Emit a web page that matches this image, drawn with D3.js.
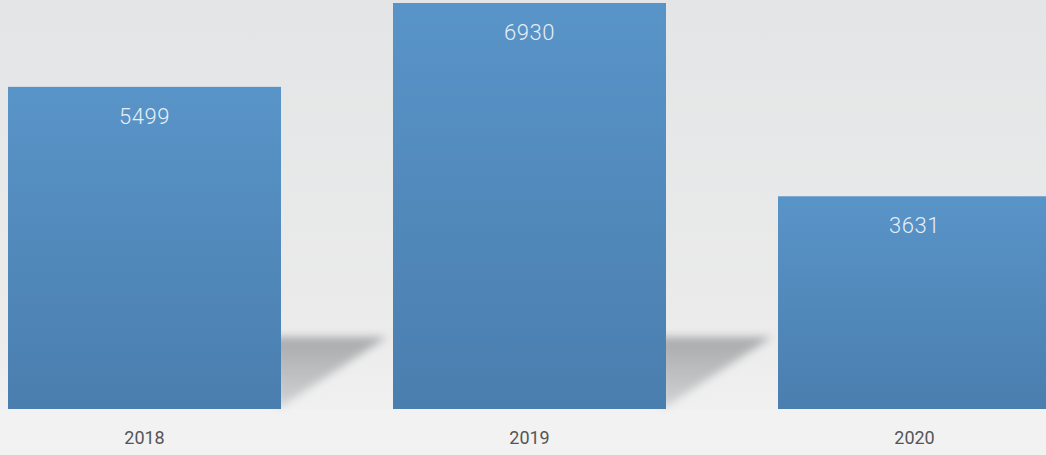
<!DOCTYPE html>
<html>
<head>
<meta charset="utf-8">
<script src="https://cdn.jsdelivr.net/npm/d3@7"></script>
<style>
html,body{margin:0;padding:0;overflow:hidden;background:#eeeeee;}
svg{display:block;}
</style>
</head>
<body>
<svg id="chart" width="1046" height="455"></svg>
<script>
const categories = ["2018", "2019", "2020"];
const values = [5499, 6930, 3631];

const W = 1046, H = 455;
const baseY = 409, topY = 3;
const svg = d3.select("#chart");
const defs = svg.append("defs");

const bg = defs.append("linearGradient").attr("id","bg").attr("x1",0).attr("y1",0).attr("x2",0).attr("y2",1);
bg.append("stop").attr("offset","0%").attr("stop-color","#e3e5e6");
bg.append("stop").attr("offset","70%").attr("stop-color","#ebebeb");
bg.append("stop").attr("offset","100%").attr("stop-color","#f3f3f3");

const barG = defs.append("linearGradient").attr("id","barG").attr("x1",0).attr("y1",0).attr("x2",0).attr("y2",1);
barG.append("stop").attr("offset","0%").attr("stop-color","#5994c8");
barG.append("stop").attr("offset","100%").attr("stop-color","#4a7eaf");

const shG = defs.append("linearGradient").attr("id","shG").attr("x1",0).attr("y1",0).attr("x2",0).attr("y2",1);
shG.append("stop").attr("offset","0%").attr("stop-color","#a8aaac");
shG.append("stop").attr("offset","100%").attr("stop-color","#d2d3d4");

const blur = defs.append("filter").attr("id","blur").attr("x","-30%").attr("y","-30%").attr("width","160%").attr("height","160%");
blur.append("feGaussianBlur").attr("stdDeviation",4.5);

svg.append("rect").attr("width",W).attr("height",H).attr("fill","url(#bg)");
svg.append("rect").attr("y",baseY).attr("width",W).attr("height",H-baseY).attr("fill","#f2f2f2");

const x = d3.scaleBand().domain(categories).range([8, 1051]).paddingInner(112/385).paddingOuter(0);
const y = d3.scaleLinear().domain([0, d3.max(values)]).range([baseY, topY]);

const data = categories.map((c,i)=>({cat:c, v:values[i]}));

const shDepth = 116, shHeight = 72;
svg.append("g").selectAll("path").data(data.slice(0,2)).join("path")
  .attr("d", d => {
    const x0 = x(d.cat) + x.bandwidth() - 10;
    return `M${x0},${baseY-shHeight} L${x0+shDepth},${baseY-shHeight} L${x0+6},${baseY} Z`;
  })
  .attr("fill","url(#shG)")
  .attr("filter","url(#blur)");

svg.append("g").selectAll("rect").data(data).join("rect")
  .attr("x", d => x(d.cat))
  .attr("y", d => y(d.v))
  .attr("width", x.bandwidth())
  .attr("height", d => baseY - y(d.v))
  .attr("fill","url(#barG)");

svg.append("g").selectAll("text").data(data).join("text")
  .attr("x", d => x(d.cat) + x.bandwidth()/2)
  .attr("y", d => y(d.v) + 37)
  .attr("text-anchor","middle")
  .attr("font-family","Roboto, 'DejaVu Sans', sans-serif")
  .attr("font-weight",300)
  .attr("font-size",22)
  .attr("letter-spacing","0.5px")
  .attr("fill","#e6eef7")
  .text(d => d.v);

const xAxis = d3.axisBottom(x).tickSize(0).tickPadding(0);
const ax = svg.append("g").attr("transform",`translate(0,${baseY+22})`).call(xAxis);
ax.select(".domain").remove();
ax.selectAll("text")
  .attr("dy","0.71em")
  .attr("font-family","Roboto, 'DejaVu Sans', sans-serif")
  .attr("font-size",18)
  .attr("fill","#555555");
</script>
</body>
</html>
